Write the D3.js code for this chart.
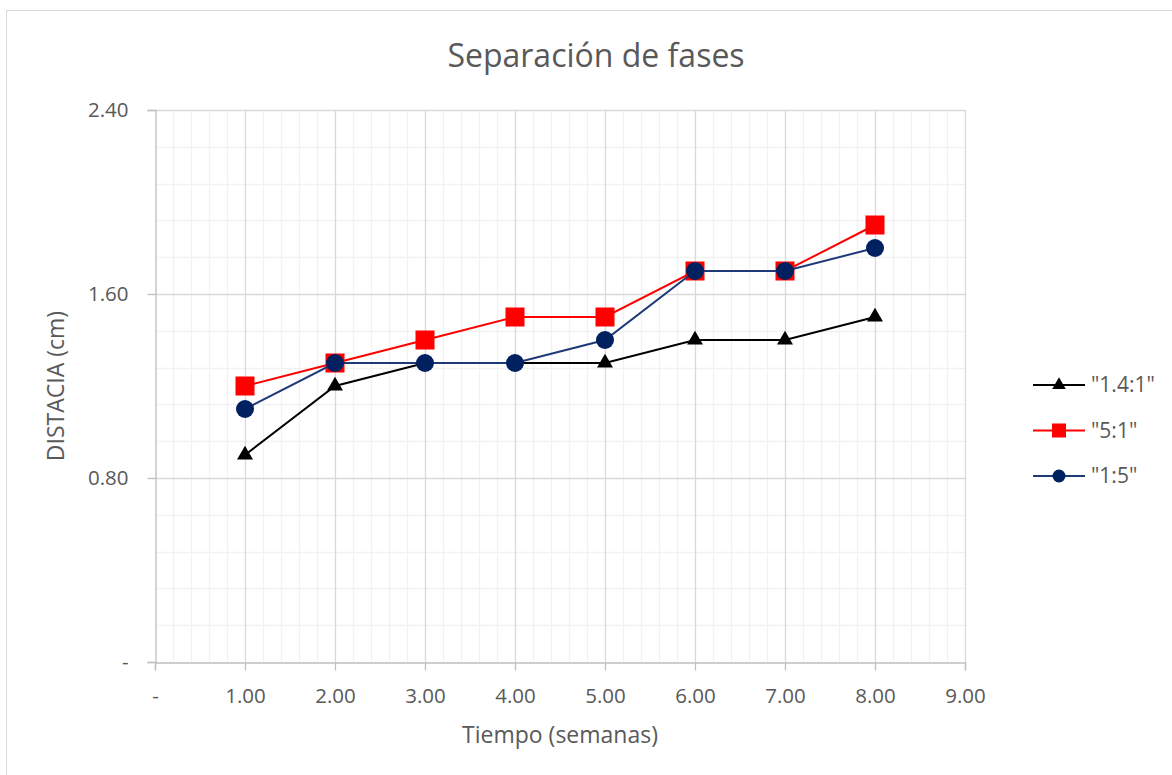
<!DOCTYPE html>
<html>
<head>
<meta charset="utf-8">
<script src="https://cdn.jsdelivr.net/npm/d3@7"></script>
<style>
  body { margin: 0; background: #fff; }
  text { font-family: "Open Sans", "Noto Sans", sans-serif; fill: #595959; }
</style>
</head>
<body>
<script>
// DATA
const WEEKS = [1, 2, 3, 4, 5, 6, 7, 8];
const SERIES_NAMES = ['"1.4:1"', '"5:1"', '"1:5"'];
const VALUES_14_1 = [0.9, 1.2, 1.3, 1.3, 1.3, 1.4, 1.4, 1.5];
const VALUES_5_1 = [1.2, 1.3, 1.4, 1.5, 1.5, 1.7, 1.7, 1.9];
const VALUES_1_5 = [1.1, 1.3, 1.3, 1.3, 1.4, 1.7, 1.7, 1.8];
const X_TICKS = [0, 1, 2, 3, 4, 5, 6, 7, 8, 9];
const Y_TICKS = [0, 0.8, 1.6, 2.4];

// CONSTANTS
const WIDTH = 1172;
const HEIGHT = 775;
const LEFT = 155, RIGHT = 965, TOP = 110, BOTTOM = 662;

const series = [
  { name: SERIES_NAMES[0], values: VALUES_14_1, color: '#000000', marker: 'triangle' },
  { name: SERIES_NAMES[1], values: VALUES_5_1, color: '#ff0000', marker: 'square' },
  { name: SERIES_NAMES[2], values: VALUES_1_5, color: '#002060', line: '#1f3a78', marker: 'circle' }
];

const X_SCALE = d3.scaleLinear().domain([0, 9]).range([LEFT, RIGHT]);
const Y_SCALE = d3.scaleLinear().domain([0, 2.4]).range([BOTTOM, TOP]);
const fmt = (d) => d === 0 ? '-' : d3.format('.2f')(d);

const svg = d3.select('body').append('svg')
  .attr('width', WIDTH)
  .attr('height', HEIGHT);

// chart border (only top/left visible)
svg.append('rect')
  .attr('x', 6.5).attr('y', 10.5)
  .attr('width', 1300).attr('height', 900)
  .attr('fill', 'none')
  .attr('stroke', '#d9d9d9');

// MINOR GRID
const xMinor = d3.range(0, 9.001, 0.2).filter(v => Math.abs(v - Math.round(v)) > 1e-6);
const yMinor = d3.range(0, 2.4001, 0.16).filter(v => Math.abs(v / 0.8 - Math.round(v / 0.8)) > 1e-6);

svg.append('g').selectAll('line').data(xMinor).enter().append('line')
  .attr('x1', d => Math.round(X_SCALE(d)) + 0.5).attr('x2', d => Math.round(X_SCALE(d)) + 0.5)
  .attr('y1', TOP).attr('y2', BOTTOM)
  .attr('stroke', '#f2f2f2').attr('stroke-width', 1.3);
svg.append('g').selectAll('line').data(yMinor).enter().append('line')
  .attr('y1', d => Math.round(Y_SCALE(d)) + 0.5).attr('y2', d => Math.round(Y_SCALE(d)) + 0.5)
  .attr('x1', LEFT).attr('x2', RIGHT)
  .attr('stroke', '#f2f2f2').attr('stroke-width', 1.3);

// MAJOR GRID
svg.append('g').selectAll('line').data(X_TICKS.slice(1)).enter().append('line')
  .attr('x1', d => Math.round(X_SCALE(d)) + 0.5).attr('x2', d => Math.round(X_SCALE(d)) + 0.5)
  .attr('y1', TOP).attr('y2', BOTTOM)
  .attr('stroke', '#d9d9d9').attr('stroke-width', 1.3);
svg.append('g').selectAll('line').data(Y_TICKS.slice(1)).enter().append('line')
  .attr('y1', d => Math.round(Y_SCALE(d)) + 0.5).attr('y2', d => Math.round(Y_SCALE(d)) + 0.5)
  .attr('x1', LEFT).attr('x2', RIGHT)
  .attr('stroke', '#d9d9d9').attr('stroke-width', 1.3);

// AXES
const X_AXIS = d3.axisBottom(X_SCALE).tickValues(X_TICKS).tickFormat(fmt).tickSize(8).tickPadding(18);
const Y_AXIS = d3.axisLeft(Y_SCALE).tickValues(Y_TICKS).tickFormat(fmt).tickSize(8).tickPadding(19);

const xg = svg.append('g')
  .attr('transform', 'translate(0,' + (BOTTOM + 0.5) + ')')
  .call(X_AXIS);
const yg = svg.append('g')
  .attr('transform', 'translate(' + (LEFT + 0.5) + ',0)')
  .call(Y_AXIS);

[xg, yg].forEach(g => {
  g.select('.domain').attr('stroke', '#bfbfbf').attr('stroke-width', 1.3);
  g.selectAll('.tick line').attr('stroke', '#bfbfbf').attr('stroke-width', 1.3);
  g.selectAll('.tick text').style('font-size', '20.5px').attr('fill', '#595959')
    .style('font-family', '"Open Sans", sans-serif');
});

// TITLES
svg.append('text')
  .attr('x', 596).attr('y', 67)
  .attr('text-anchor', 'middle')
  .style('font-size', '32px')
  .text('Separación de fases');

svg.append('text')
  .attr('x', 560).attr('y', 743)
  .attr('text-anchor', 'middle')
  .style('font-size', '23px')
  .text('Tiempo (semanas)');

svg.append('text')
  .attr('transform', 'translate(64,386) rotate(-90)')
  .attr('text-anchor', 'middle')
  .style('font-size', '23px')
  .text('DISTACIA (cm)');

// MARKERS
function drawMarker(g, type, color) {
  if (type === 'triangle') {
    g.append('path').attr('d', d3.symbol().type(d3.symbolTriangle).size(110)()).attr('fill', color);
  } else if (type === 'square') {
    g.append('rect').attr('x', -9.5).attr('y', -9.5).attr('width', 19).attr('height', 19).attr('fill', color);
  } else {
    g.append('circle').attr('r', 9).attr('fill', color);
  }
}

// SERIES
const line = d3.line()
  .x((d, i) => X_SCALE(WEEKS[i]))
  .y(d => Y_SCALE(d));

series.forEach(s => {
  svg.append('path')
    .datum(s.values)
    .attr('d', line)
    .attr('fill', 'none')
    .attr('stroke', s.line || s.color)
    .attr('stroke-width', 2);
  svg.append('g').selectAll('g').data(s.values).enter().append('g')
    .attr('transform', (d, i) => 'translate(' + X_SCALE(WEEKS[i]) + ',' + Y_SCALE(d) + ')')
    .each(function() { drawMarker(d3.select(this), s.marker, s.color); });
});

// LEGEND
const legend = svg.append('g').selectAll('g').data(series).enter().append('g')
  .attr('transform', (d, i) => 'translate(1033,' + (385 + i * 45.5) + ')');
legend.append('line')
  .attr('x1', 0).attr('x2', 52)
  .attr('stroke', d => d.line || d.color)
  .attr('stroke-width', 2);
legend.append('g')
  .attr('transform', 'translate(26,0)')
  .each(function(d) {
    const g = d3.select(this);
    if (d.marker === 'triangle') {
      g.append('path').attr('d', d3.symbol().type(d3.symbolTriangle).size(80)()).attr('fill', d.color);
    } else if (d.marker === 'square') {
      g.append('rect').attr('x', -7).attr('y', -7).attr('width', 14).attr('height', 14).attr('fill', d.color);
    } else {
      g.append('circle').attr('r', 6.5).attr('fill', d.color);
    }
  });
legend.append('text')
  .attr('x', 58).attr('dy', '0.35em')
  .style('font-size', '21px')
  .text(d => d.name);
</script>
</body>
</html>
